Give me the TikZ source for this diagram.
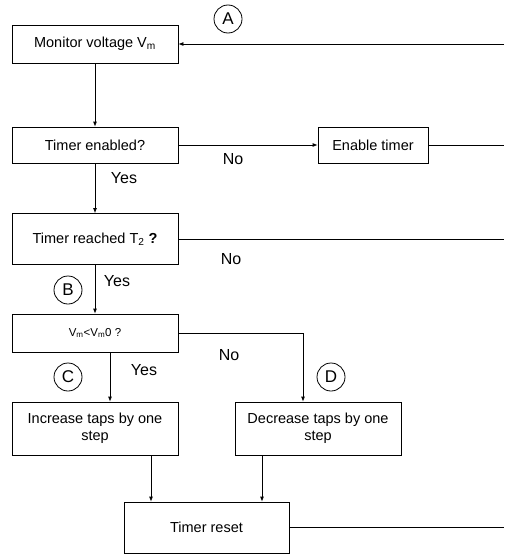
\documentclass[tikz,border=0pt]{standalone}
\usepackage{fontspec}
\setmainfont{Liberation Sans}
\usetikzlibrary{arrows.meta,calc}

\begin{document}
\begin{tikzpicture}[x=1pt, y=-1pt, line width=0.8pt,
    blk/.style={draw, rectangle, inner sep=2pt, align=center, font=\fontsize{14.5}{17}\selectfont},
    arr/.style={-{Latex[length=5pt,width=4pt]}},
    yn/.style={font=\fontsize{16}{18}\selectfont},
    tag/.style={draw, circle, minimum size=28pt, inner sep=0pt, font=\fontsize{17}{19}\selectfont}]
    \useasboundingbox (0,0) rectangle (504,554);
    % boxes
    \node[blk, minimum width=166pt, minimum height=38pt] (mon) at (95,44) {Monitor voltage V\textsubscript{m}};
    \node[blk, minimum width=166pt, minimum height=36pt] (en) at (95,145) {Timer enabled?};
    \node[blk, minimum width=110pt, minimum height=36pt] (ent) at (373,145) {Enable timer};
    \node[blk, minimum width=166pt, minimum height=51pt] (reach) at (95,239) {Timer reached T\textsubscript{2} \textbf{?}};
    \node[blk, minimum width=166pt, minimum height=38pt, font=\fontsize{11.5}{14}\selectfont] (cmp) at (95,333) {V\textsubscript{m}<V\textsubscript{m}0 ?};
    \node[blk, minimum width=166pt, minimum height=53pt] (inc) at (95,428.5) {Increase taps by one\\step};
    \node[blk, minimum width=166pt, minimum height=53pt] (dec) at (318,428.5) {Decrease taps by one\\step};
    \node[blk, minimum width=165pt, minimum height=51pt] (rst) at (206.5,527.5) {Timer reset};
    % right-hand return line
    \coordinate (rgt) at (504,0);
    % connectors
    \draw[arr] (mon.east -| rgt) -- (mon.east);
    \draw[arr] (mon) -- (en);
    \draw[arr] (en) -- (ent);
    \draw (ent.east) -- (ent.east -| rgt);
    \draw[arr] (en) -- (reach);
    \draw (reach.east) -- (reach.east -| rgt);
    \draw[arr] (reach) -- (cmp);
    \draw[arr] ([xshift=15pt]cmp.south) -- ([xshift=15pt]inc.north);
    \draw[arr] (cmp.east) -| ([xshift=-15pt]dec.north);
    \draw[arr] ([xshift=56pt]inc.south) -- ([xshift=56pt]inc.south |- rst.north);
    \draw[arr] ([xshift=-56pt]dec.south) -- ([xshift=-56pt]dec.south |- rst.north);
    \draw (rst.east) -- (rst.east -| rgt);
    % labels
    \node[yn] (no1) at (233,159) {No}; \node[yn] (yes1) at (124,178) {Yes};
    \node[yn] (no2) at (231,259) {No}; \node[yn] (yes2) at (117,281) {Yes};
    \node[yn] (no3) at (229,355) {No}; \node[yn] (yes3) at (144,370) {Yes};
    \node[tag] (tA) at (228,19) {A}; \node[tag] (tB) at (68,290) {B};
    \node[tag] (tC) at (68,377) {C}; \node[tag] (tD) at (331,377) {D};
\end{tikzpicture}
\end{document}
